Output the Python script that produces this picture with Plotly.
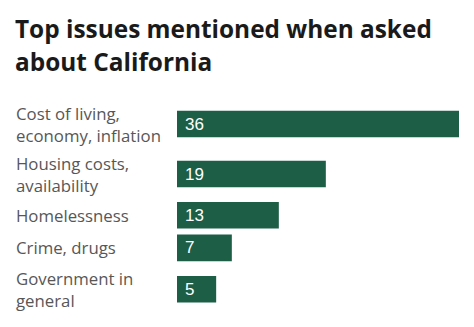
import plotly.graph_objects as go

# Data
categories = ["Cost of living,<br>economy, inflation", "Housing costs,<br>availability",
              "Homelessness", "Crime, drugs", "Government in<br>general"]
values = [36, 19, 13, 7, 5]
title_lines = ["Top issues mentioned when asked", "about California"]

BAR_COLOR = "#1c5e46"
LABEL_COLOR = "#575757"
LINE_H = 22.0
BAR_H = 26.6
GAP = 6.0

# compute row centers from the number of label lines (layout derived from label text)
centers = []
top = 2.0
for c in categories:
    n = c.count("<br>") + 1
    h = max(n * LINE_H, BAR_H)
    centers.append(top + h / 2)
    top += h + GAP

fig = go.Figure()
fig.add_trace(go.Bar(
    x=values, y=centers, orientation="h", width=BAR_H,
    marker=dict(color=BAR_COLOR, line=dict(width=0)),
    hoverinfo="skip",
))

for c, v, y in zip(categories, values, centers):
    fig.add_annotation(x=0, y=y, xref="x", yref="y", text=str(v), showarrow=False,
                       xanchor="left", yanchor="middle", xshift=6,
                       font=dict(family="Liberation Sans, Arial", size=17, color="white"))
    fig.add_annotation(x=(14 - 177) / 282, y=y, xref="paper", yref="y", text=c,
                       showarrow=False, xanchor="left", yanchor="middle", align="left",
                       font=dict(family="Open Sans, sans-serif", size=16.8, color=LABEL_COLOR))

# title as annotations (one per line)
for i, t in enumerate(title_lines):
    fig.add_annotation(x=(13 - 177) / 282, y=1 + (100 - 29 - 33 * i) / 210, xref="paper", yref="paper",
                       text="<b>" + t + "</b>", showarrow=False, xanchor="left", yanchor="middle",
                       align="left",
                       font=dict(family="Open Sans, sans-serif", size=24.4, color="#1a1a1a"))

fig.update_layout(
    width=474, height=327,
    margin=dict(l=177, r=15, t=100, b=17),
    paper_bgcolor="white", plot_bgcolor="white",
    showlegend=False,
    xaxis=dict(range=[0, 36], visible=False, fixedrange=True),
    yaxis=dict(range=[210, 0], visible=False, fixedrange=True),
)

fig.write_html("out.html")
